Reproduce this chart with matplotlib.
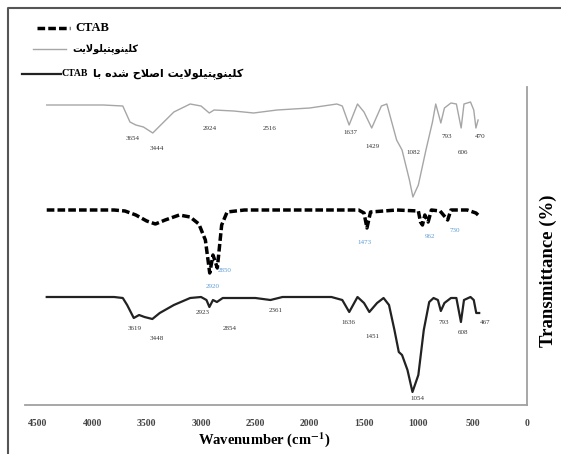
import matplotlib
matplotlib.use("Agg")
import matplotlib.pyplot as plt
from matplotlib.lines import Line2D

plt.rcParams['mathtext.fontset'] = 'stix'

# --- data (wavenumber cm-1, offset transmittance) ---
wn_clino = [4420, 3900, 3720, 3654, 3600, 3530, 3444, 3380, 3250, 3100, 3000, 2924, 2880,
            2700, 2516, 2300, 2000, 1750, 1700, 1637, 1560, 1500, 1429, 1340, 1290, 1200,
            1150, 1082, 1050, 1000, 930, 870, 840, 800, 793, 760, 700, 650, 606, 580, 520,
            490, 470, 450]
t_clino = [300, 300, 299, 283, 280, 278, 272, 279, 293, 301, 299, 292, 295,
           294, 292, 295, 297, 301, 299, 280, 301, 293, 277, 299, 301, 265,
           255, 225, 208, 220, 255, 283, 301, 285, 282, 297, 302, 301, 277, 301, 303,
           295, 277, 285]

wn_ctab = [4420, 3800, 3700, 3600, 3500, 3420, 3330, 3200, 3100, 3020, 2960, 2920, 2890,
           2850, 2810, 2760, 2600, 2000, 1550, 1500, 1473, 1440, 1200, 1000, 980, 962,
           940, 910, 880, 800, 730, 700, 550, 470, 440]
t_ctab = [195, 195, 194, 190, 184, 181, 185, 190, 188, 181, 165, 132, 150,
          137, 180, 193, 195, 195, 195, 192, 177, 193, 195, 194, 183, 180,
          190, 183, 195, 194, 185, 195, 195, 192, 189]

wn_mod = [4420, 3800, 3720, 3680, 3619, 3570, 3520, 3448, 3380, 3250, 3100, 3000, 2950,
          2923, 2890, 2854, 2800, 2500, 2361, 2250, 1800, 1700, 1636, 1560, 1500, 1451,
          1380, 1320, 1270, 1220, 1180, 1150, 1100, 1054, 1000, 950, 900, 860, 820, 793,
          760, 700, 650, 608, 580, 520, 490, 467, 440]
t_mod = [108, 108, 107, 100, 87, 90, 88, 86, 92, 100, 107, 108, 105,
         98, 105, 103, 107, 107, 105, 108, 108, 105, 93, 108, 102, 93,
         102, 107, 100, 75, 53, 50, 35, 13, 30, 75, 103, 107, 105, 94,
         102, 107, 107, 83, 105, 108, 105, 92, 92]

x_ticks = [4500, 4000, 3500, 3000, 2500, 2000, 1500, 1000, 500, 0]

# peak labels: (text, wavenumber, value)
peaks_clino = [("3654", 3626, 267), ("3444", 3405, 257), ("2924", 2917, 277),
               ("2516", 2365, 277), ("1637", 1629, 272), ("1429", 1426, 258),
               ("1082", 1049, 253), ("793", 736, 269), ("606", 589, 253), ("470", 433, 269)]
peaks_ctab = [("2850", 2779, 135), ("2920", 2890, 119), ("1473", 1491, 162),
              ("962", 893, 168), ("730", 663, 175)]
peaks_mod = [("3619", 3608, 77), ("3448", 3405, 66), ("2923", 2982, 92), ("2854", 2733, 76),
             ("2361", 2310, 94), ("1636", 1647, 82), ("1451", 1426, 68), ("1054", 1012, 7),
             ("793", 764, 82), ("608", 589, 72), ("467", 387, 82)]

# --- minimal Persian shaping (matplotlib has no complex text layout) ---
FORMS = {  # isolated, final, initial, medial
    'ا': ('\uFE8D', '\uFE8E', None, None),
    'ب': ('\uFE8F', '\uFE90', '\uFE91', '\uFE92'),
    'پ': ('\uFB56', '\uFB57', '\uFB58', '\uFB59'),
    'ت': ('\uFE95', '\uFE96', '\uFE97', '\uFE98'),
    'ح': ('\uFEA1', '\uFEA2', '\uFEA3', '\uFEA4'),
    'د': ('\uFEA9', '\uFEAA', None, None),
    'ش': ('\uFEB5', '\uFEB6', '\uFEB7', '\uFEB8'),
    'ص': ('\uFEB9', '\uFEBA', '\uFEBB', '\uFEBC'),
    'ک': ('\uFB8E', '\uFB8F', '\uFB90', '\uFB91'),
    'ل': ('\uFEDD', '\uFEDE', '\uFEDF', '\uFEE0'),
    'ن': ('\uFEE5', '\uFEE6', '\uFEE7', '\uFEE8'),
    'ه': ('\uFEE9', '\uFEEA', '\uFEEB', '\uFEEC'),
    'و': ('\uFEED', '\uFEEE', None, None),
    'ی': ('\uFBFC', '\uFBFD', '\uFBFE', '\uFBFF'),
}


def fa(text):
    """Shape Persian text into presentation forms and return it in visual order."""
    out = []
    i = 0
    while i < len(text):
        c = text[i]
        if c not in FORMS:
            out.append(c)
            i += 1
            continue
        prev = text[i - 1] if i > 0 else ''
        joins_prev = prev in FORMS and FORMS[prev][2] is not None
        if c == 'ل' and i + 1 < len(text) and text[i + 1] == 'ا':
            out.append('\uFEFC' if joins_prev else '\uFEFB')
            i += 2
            continue
        nxt = text[i + 1] if i + 1 < len(text) else ''
        joins_next = nxt in FORMS and FORMS[c][2] is not None
        iso, fin, ini, med = FORMS[c]
        if joins_prev and joins_next:
            out.append(med)
        elif joins_prev:
            out.append(fin)
        elif joins_next:
            out.append(ini)
        else:
            out.append(iso)
        i += 1
    return ''.join(out)[::-1]


label_ctab = "CTAB"
label_clino = fa("کلینوپتیلولایت")
label_mod = fa("کلینوپتیلولایت اصلاح شده با")

W, H = 561, 454
fig = plt.figure(figsize=(W / 100, H / 100), dpi=100)
ax = fig.add_axes([25 / W, 49 / H, 502 / W, 318 / H])

style_ctab = dict(color="black", lw=2.5, ls=(0, (2.2, 0.9)))
style_clino = dict(color="#a6a6a6", lw=1.0)
style_mod = dict(color="#222222", lw=1.6)

ax.plot(wn_ctab, t_ctab, **style_ctab)
ax.plot(wn_clino, t_clino, **style_clino)
ax.plot(wn_mod, t_mod, **style_mod)

for txt, x, y in peaks_clino + peaks_mod:
    ax.text(x, y, txt, fontsize=5, ha="center", va="center", color="#333333",
            family="Liberation Serif")
for txt, x, y in peaks_ctab:
    ax.text(x, y, txt, fontsize=5, ha="center", va="center", color="#5b9bd5",
            family="Liberation Serif")

ax.set_xlim(4620, 0)
ax.set_ylim(0, 318)
ax.set_xticks(x_ticks)
ax.set_xticklabels([str(t) for t in x_ticks], family="Liberation Serif",
                   fontweight="bold", fontsize=7, color="#444444")
ax.tick_params(axis="x", length=0, pad=10)
ax.set_yticks([])
for s in ["left", "top"]:
    ax.spines[s].set_visible(False)
for s in ["bottom", "right"]:
    ax.spines[s].set_color("#a0a0a0")
    ax.spines[s].set_linewidth(1.3)

fig.text(264 / W, 1 - 440 / H, "Wavenumber (cm$^{\\mathbf{-1}}$)", ha="center",
         va="center", fontsize=10.5, fontweight="bold", family="Liberation Serif")
fig.text(548 / W, 1 - 271 / H, "Transmittance (%)", rotation=90, ha="center",
         va="center", fontsize=13.5, fontweight="bold", family="Liberation Serif")

# legend, drawn by hand in pixel positions of the reference
def legend_line(x0, x1, y, style):
    fig.add_artist(Line2D([x0 / W, x1 / W], [1 - y / H, 1 - y / H],
                          transform=fig.transFigure, **style))

legend_line(37, 70, 28, style_ctab)
fig.text(75 / W, 1 - 28 / H, label_ctab, ha="left", va="center", fontsize=9,
         fontweight="bold", family="Liberation Serif")
legend_line(33, 66, 49, style_clino)
fig.text(72 / W, 1 - 49 / H, label_clino, ha="left", va="center", fontsize=7,
         fontweight="bold", family="DejaVu Sans")
legend_line(22, 61, 74, style_mod)
fig.text(62 / W, 1 - 74 / H, "CTAB", ha="left", va="center", fontsize=7,
         fontweight="bold", family="Liberation Serif")
fig.text(93 / W, 1 - 74 / H, label_mod, ha="left", va="center", fontsize=8,
         fontweight="bold", family="DejaVu Sans")

# outer frame (left and top edges visible in the reference)
fig.add_artist(Line2D([8 / W, 8 / W, 1], [0, 1 - 8 / H, 1 - 8 / H],
                      transform=fig.transFigure, color="#555555", lw=1.5))

fig.savefig("out.png", dpi=100)
